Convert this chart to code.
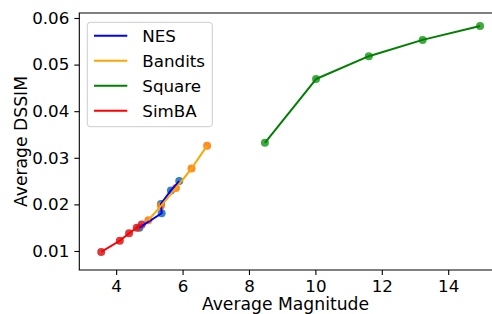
<!DOCTYPE html>
<html>
<head>
<meta charset="utf-8">
<script src="https://cdn.jsdelivr.net/npm/d3@7"></script>
<style>
	body {
		margin: 0;
		background: #fff;
	}
	svg text {
		font-family: 'DejaVu Sans', sans-serif;
		fill: #000;
	}
</style>
</head>
<body>
<div id="chart"></div>
<script>
const nesX = [4.70, 5.37, 5.35, 5.65, 5.90];
const nesY = [0.0150, 0.0181, 0.0201, 0.0230, 0.0250];

const banditsX = [4.97, 5.35, 5.80, 6.27, 6.74];
const banditsY = [0.0166, 0.0197, 0.0235, 0.0277, 0.0326];

const squareX = [8.48, 10.02, 11.61, 13.23, 14.96];
const squareY = [0.0332, 0.0469, 0.0518, 0.0553, 0.0583];

const simbaX = [3.55, 4.11, 4.39, 4.62, 4.77];
const simbaY = [0.0098, 0.0122, 0.0138, 0.0150, 0.0157];

const xTicks = [4, 6, 8, 10, 12, 14];
const yTicks = [0.01, 0.02, 0.03, 0.04, 0.05, 0.06];

const SERIES = [
	{name: 'NES', x: nesX, y: nesY, line: '#0000ff', marker: '#1f77b4'},
	{name: 'Bandits', x: banditsX, y: banditsY, line: '#ffa500', marker: '#ff7f0e'},
	{name: 'Square', x: squareX, y: squareY, line: '#008000', marker: '#2ca02c'},
	{name: 'SimBA', x: simbaX, y: simbaY, line: '#ff0000', marker: '#d62728'},
];

const WIDTH = 492;
const HEIGHT = 314;
const FONT = '16.7px';
const LABEL_FONT = '17.2px';

const plot = {left: 79.3, right: 491.7, top: 13, bottom: 270};

const svg = d3
	.select('#chart')
	.append('svg')
	.attr('width', WIDTH)
	.attr('height', HEIGHT);

const x = d3
	.scaleLinear()
	.domain([2.89, 15.31])
	.range([plot.left, plot.right]);

const y = d3
	.scaleLinear()
	.domain([0.00592, 0.06107])
	.range([plot.bottom, plot.top]);

/**
 * Zip the x and y arrays of a series into points
 * @param {Object} s
 * @return {Array}
 */
function points(s) {
	return s.x.map((v, i) => [v, s.y[i]]);
}

// Axes
const xAxis = svg
	.append('g')
	.attr('transform', `translate(0,${plot.bottom})`)
	.call(
		d3
			.axisBottom(x)
			.tickValues(xTicks)
			.tickFormat(d3.format('d'))
			.tickSize(5)
			.tickPadding(5)
	);

const yAxis = svg
	.append('g')
	.attr('transform', `translate(${plot.left},0)`)
	.call(
		d3
			.axisLeft(y)
			.tickValues(yTicks)
			.tickFormat(d3.format('.2f'))
			.tickSize(5)
			.tickPadding(5)
	);

[xAxis, yAxis].forEach(ax => {
	ax.select('.domain').remove();
	ax.selectAll('.tick line').attr('stroke', '#000').attr('stroke-width', 1.1);
	ax.selectAll('.tick text').style('font-size', FONT).attr('fill', '#000');
});

// Spines (the right one falls outside the picture)
svg
	.append('path')
	.attr(
		'd',
		`M${plot.right + 1},${plot.top}H${plot.left}V${plot.bottom}H${plot.right + 1}`
	)
	.attr('fill', 'none')
	.attr('stroke', '#000')
	.attr('stroke-width', 1.1);

// Markers sit under the lines, as in matplotlib
const markerLayer = svg.append('g');
const lineLayer = svg.append('g');

const line = d3
	.line()
	.x(d => x(d[0]))
	.y(d => y(d[1]));

SERIES.forEach(s => {
	markerLayer
		.append('g')
		.selectAll('circle')
		.data(points(s))
		.enter()
		.append('circle')
		.attr('cx', d => x(d[0]))
		.attr('cy', d => y(d[1]))
		.attr('r', 4)
		.attr('fill', s.marker)
		.attr('fill-opacity', 0.9);

	lineLayer
		.append('path')
		.datum(points(s))
		.attr('d', line)
		.attr('fill', 'none')
		.attr('stroke', s.line)
		.attr('stroke-width', 2)
		.attr('stroke-linejoin', 'round');
});

// Axis labels
svg
	.append('text')
	.attr('x', (plot.left + plot.right) / 2)
	.attr('y', 310)
	.attr('text-anchor', 'middle')
	.style('font-size', LABEL_FONT)
	.text('Average Magnitude');

svg
	.append('text')
	.attr('transform', `translate(27,${(plot.top + plot.bottom) / 2}) rotate(-90)`)
	.attr('text-anchor', 'middle')
	.style('font-size', LABEL_FONT)
	.text('Average DSSIM');

// Legend
const legend = svg.append('g').attr('transform', 'translate(87.3,22.3)');

legend
	.append('rect')
	.attr('width', 125)
	.attr('height', 104.4)
	.attr('rx', 3)
	.attr('fill', '#fff')
	.attr('fill-opacity', 0.8)
	.attr('stroke', '#cccccc')
	.attr('stroke-width', 1);

const rows = legend
	.selectAll('g.row')
	.data(SERIES)
	.enter()
	.append('g')
	.attr('class', 'row')
	.attr('transform', (d, i) => `translate(0,${13.4 + i * 25})`);

rows
	.append('line')
	.attr('x1', 6.7)
	.attr('x2', 40)
	.attr('stroke', d => d.line)
	.attr('stroke-width', 2);

rows
	.append('text')
	.attr('x', 55)
	.attr('dy', '0.36em')
	.style('font-size', FONT)
	.text(d => d.name);
</script>
</body>
</html>
